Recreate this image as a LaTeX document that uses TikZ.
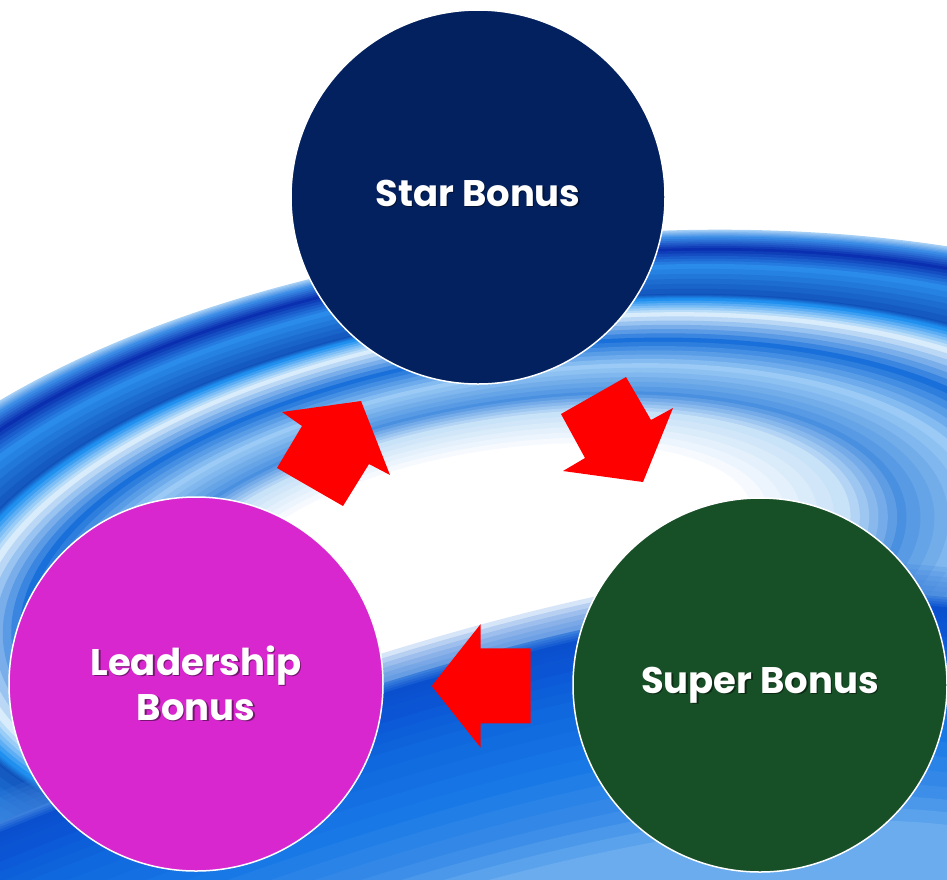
\documentclass[tikz,border=0pt]{standalone}
\usepackage{fontspec}
\setmainfont{Poppins}
\usetikzlibrary{calc}
\definecolor{starblue}{HTML}{03215F}
\definecolor{supergreen}{HTML}{174F27}
\definecolor{leadmag}{HTML}{D827CF}
\definecolor{w0}{HTML}{A8D0F5}
\definecolor{w1}{HTML}{3A8BE6}
\definecolor{w2}{HTML}{0A2FB0}
\definecolor{w3}{HTML}{2A8BEA}
\definecolor{w4}{HTML}{1050B8}
\definecolor{w5}{HTML}{2090F0}
\definecolor{w6}{HTML}{D8ECFB}
\definecolor{w7}{HTML}{1A70DA}
\definecolor{w8}{HTML}{9ACAF5}
\definecolor{w9}{HTML}{4A90E0}
\definecolor{w10}{HTML}{C8E2F8}
\definecolor{w11}{HTML}{FFFFFF}
\definecolor{b3}{HTML}{3A7FDC}
\definecolor{b4}{HTML}{0A50CE}
\definecolor{b5}{HTML}{0B55D4}
\definecolor{b6}{HTML}{0F68DE}
\definecolor{b7}{HTML}{1878E6}
\definecolor{b8}{HTML}{3C8EE8}
\definecolor{b9}{HTML}{7AB6F0}
\tikzset{
  bonus/.style={circle, draw=white, line width=1.5pt, minimum size=374pt, inner sep=0pt},
  bonustext/.style={text=white, font=\bfseries\fontsize{37}{45}\selectfont, align=center},
  shadowtext/.style={text=black, text opacity=0.45, font=\bfseries\fontsize{37}{45}\selectfont, align=center},
  blockarrow/.style={fill=red, draw=none},
  ring/.style={draw=none}
}
\begin{document}
\begin{tikzpicture}[x=1pt,y=-1pt]
\useasboundingbox (0,0) rectangle (947,879);
\begin{scope}
\clip (0,0) rectangle (947,879);
\fill[white] (0,0) rectangle (947,879);
% water ripples: nested ellipses, outer (t=1) to inner (t=0)
\foreach \ta/\ca/\tb/\cb in {
  1.00/w0/0.97/w1, 0.97/w1/0.92/w2, 0.92/w2/0.85/w3, 0.85/w3/0.72/w4,
  0.72/w4/0.70/w5, 0.70/w5/0.64/w6, 0.64/w6/0.53/w7, 0.53/w7/0.42/w8,
  0.42/w8/0.30/w9, 0.30/w9/0.22/w10, 0.22/w10/0.08/w11}
{
  \foreach \k in {0,...,5}{
    \pgfmathsetmacro\t{\ta+(\tb-\ta)*\k/6}
    \pgfmathtruncatemacro\p{100*\k/6}
    \pgfmathsetmacro\cx{480+120*\t}
    \pgfmathsetmacro\cy{550+50*\t}
    \pgfmathsetmacro\rx{220+580*\t}
    \pgfmathsetmacro\ry{80+285*\t}
    \pgfmathsetmacro\rot{10-5*\t}
    \fill[ring, fill=\cb!\p!\ca, shift={(\cx,\cy)}, rotate=\rot] (0,0) ellipse ({\rx} and {\ry});
  }
}
\fill[white, shift={(490,554)}, rotate=9.6] (0,0) ellipse ({220+580*0.08} and {80+285*0.08});
% deep water below the bright centre
\foreach \d in {-30,-25,-20,-15,-10,-5}
  \fill[ring, fill=b3, fill opacity=0.2] (-20,830+\d) .. controls (300,700+\d) and (700,560+\d) .. (967,600+\d) -- (967,1000) -- (-20,1000) -- cycle;
\foreach \da/\ca/\db/\cb in {
  0/b3/10/b4, 10/b4/30/b5,
  30/b5/70/b6, 70/b6/130/b7, 130/b7/190/b8, 190/b8/240/b9}
{
  \foreach \k in {0,...,3}{
    \pgfmathsetmacro\d{\da+(\db-\da)*\k/4}
    \pgfmathtruncatemacro\p{100*\k/4}
    \fill[ring, fill=\cb!\p!\ca] (-20,830+\d) .. controls (300,700+\d) and (700,560+\d) .. (967,600+\d) -- (967,1000) -- (-20,1000) -- cycle;
  }
}
\end{scope}
% circles
\node[bonus, fill=starblue] (star) at (478,197) {};
\node[bonus, fill=supergreen] (super) at (760,685) {};
\node[bonus, fill=leadmag] (lead) at (196,684) {};
\node[shadowtext] at ([shift={(1.5,-2.5)}]star.center) {Star Bonus};
\node[bonustext] (startext) at ([shift={(0,-4)}]star.center) {Star Bonus};
\node[shadowtext] at ([shift={(1.5,1.5)}]super.center) {Super Bonus};
\node[bonustext] (supertext) at (super.center) {Super Bonus};
\node[shadowtext] at ([shift={(1.5,0.5)}]lead.center) {Leadership\\Bonus};
\node[bonustext] (leadtext) at ([shift={(0,-1)}]lead.center) {Leadership\\Bonus};
% block arrows
\fill[blockarrow] (561,414) -- (626,377) -- (651,420) -- (673,408) -- (643,482) -- (563,471) -- (585,458) -- cycle;
\fill[blockarrow] (431.7,686) -- (480.7,624) -- (480.7,648.3) -- (530.7,648.3) -- (530.7,723.3) -- (480.7,723.3) -- (480.7,747.7) -- cycle;
\fill[blockarrow] (282,412) -- (361,401) -- (390,475) -- (369,464) -- (343,506) -- (277,468) -- (302,426) -- cycle;
\end{tikzpicture}
\end{document}
